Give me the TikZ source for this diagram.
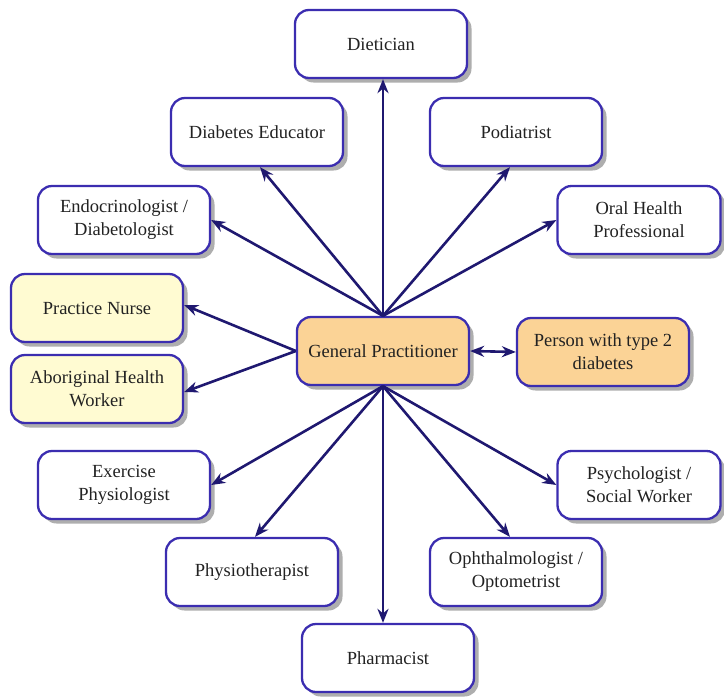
\documentclass[tikz,border=0pt]{standalone}
\usepackage{fontspec}
\setmainfont{Liberation Serif}
\usetikzlibrary{shadows,arrows.meta}
\definecolor{bordc}{HTML}{3B2DB0}
\definecolor{arrc}{HTML}{1F1870}
\definecolor{gpfill}{HTML}{FBD396}
\definecolor{yelfill}{HTML}{FFFBD2}
\definecolor{txtc}{HTML}{222222}
\tikzset{
  box/.style={draw=bordc, line width=2.3pt, rounded corners=14pt, fill=white,
    minimum width=172pt, minimum height=68pt, align=center, text=txtc,
    font=\fontsize{18.5}{23}\selectfont,
    drop shadow={shadow xshift=4.5pt, shadow yshift=-4.5pt, fill=gray!85, opacity=0.75}},
  gpbox/.style={box, fill=gpfill},
  yelbox/.style={box, fill=yelfill},
  tip/.tip={Stealth[length=14pt,width=11pt]},
  conn/.style={draw=arrc, line width=2.6pt, -tip},
  dconn/.style={draw=arrc, line width=2.6pt, tip-tip}
}
\begin{document}
\begin{tikzpicture}[x=1pt,y=-1pt]
\useasboundingbox (0,0) rectangle (724,697);
\node[box] (diet) at (381,44) {Dietician};
\node[box] (educ) at (257,132) {Diabetes Educator};
\node[box] (podi) at (516,132) {Podiatrist};
\node[box] (endo) at (124,220) {Endocrinologist /\\Diabetologist};
\node[box, minimum width=163pt] (oral) at (639,220) {Oral Health\\Professional};
\node[yelbox] (nurse) at (97,308) {Practice Nurse};
\node[yelbox] (abor) at (97,389) {Aboriginal Health\\Worker};
\node[gpbox] (gp) at (383,351) {General Practitioner};
\node[gpbox] (pers) at (603,352) {Person with type 2\\diabetes};
\node[box] (exer) at (124,485) {Exercise\\Physiologist};
\node[box, minimum width=163pt] (psyc) at (639,485) {Psychologist /\\Social Worker};
\node[box] (phys) at (252,572) {Physiotherapist};
\node[box] (opht) at (516,572) {Ophthalmologist /\\Optometrist};
\node[box] (phar) at (388,658) {Pharmacist};

\draw[conn] (gp.north) -- (gp.north |- diet.south);
\draw[conn] (gp.north) -- ([xshift=3pt]educ.south);
\draw[conn] (gp.north) -- ([xshift=-6pt]podi.south);
\draw[conn] (gp.north) -- (endo.east);
\draw[conn] (gp.north) -- (oral.west);
\draw[conn] (gp.west) -- ([yshift=3pt]nurse.east);
\draw[conn] (gp.west) -- ([yshift=-3pt]abor.east);
\draw[dconn] (gp.east) -- (pers.west);
\draw[conn] (gp.south) -- (exer.east);
\draw[conn] (gp.south) -- ([xshift=3pt]phys.north);
\draw[conn] (gp.south) -- (gp.south |- phar.north);
\draw[conn] (gp.south) -- ([xshift=-6pt]opht.north);
\draw[conn] (gp.south) -- (psyc.west);
\end{tikzpicture}
\end{document}
